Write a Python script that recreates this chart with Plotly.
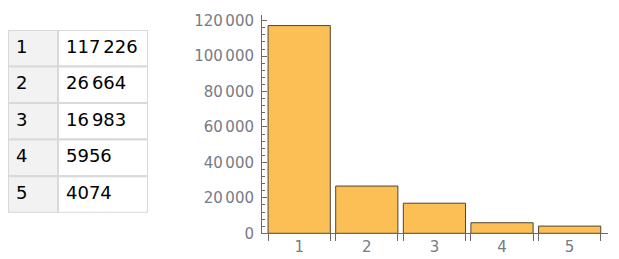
import plotly.graph_objects as go

categories = [1, 2, 3, 4, 5]
values = [117226, 26664, 16983, 5956, 4074]
y_tick_vals = [0, 20000, 40000, 60000, 80000, 100000, 120000]

W, H = 619, 259
FONT = "DejaVu Sans"
BAR_FILL = "#FBBF55"
BAR_EDGE = "#4f4535"
AXIS = "#6a6a6a"
LABEL = "#767b86"
CELL_LINE = "#d9d9d9"
CELL_FILL_1 = "#f2f2f2"
CELL_FILL_2 = "#ffffff"
COL1_W, COL2_W = 50, 90
CELL_PAD = 8
bar_w = 0.92
SEP = "\u2006"


def fmt(v):
    s = f"{v:,}"
    return s.replace(",", SEP) if v >= 10000 else str(v)


def px_x(p):
    return p / W


def px_y(p):
    return 1 - p / H


fig = go.Figure()

# ---- table (left), built from bars + text on its own axes ----
fig.add_trace(go.Bar(
    orientation="h", y=categories, x=[COL1_W] * len(categories), base=0, width=1,
    marker=dict(color=CELL_FILL_1, line=dict(color=CELL_LINE, width=2)),
    cliponaxis=False, hoverinfo="skip", xaxis="x2", yaxis="y2",
))
fig.add_trace(go.Bar(
    orientation="h", y=categories, x=[COL2_W] * len(categories), base=COL1_W, width=1,
    marker=dict(color=CELL_FILL_2, line=dict(color=CELL_LINE, width=2)),
    cliponaxis=False, hoverinfo="skip", xaxis="x2", yaxis="y2",
))
fig.add_trace(go.Scatter(
    x=[CELL_PAD] * len(categories), y=categories, mode="text",
    text=[str(c) for c in categories], textposition="middle right",
    marker=dict(size=0),
    textfont=dict(family=FONT, size=18, color="black"),
    cliponaxis=False, hoverinfo="skip", xaxis="x2", yaxis="y2",
))
fig.add_trace(go.Scatter(
    x=[COL1_W + CELL_PAD] * len(categories), y=categories, mode="text",
    text=[fmt(v) for v in values], textposition="middle right",
    marker=dict(size=0),
    textfont=dict(family=FONT, size=18, color="black"),
    cliponaxis=False, hoverinfo="skip", xaxis="x2", yaxis="y2",
))

# ---- bar chart (right) ----
fig.add_trace(go.Bar(
    x=categories, y=values, width=bar_w,
    marker=dict(color=BAR_FILL, line=dict(color=BAR_EDGE, width=1)),
    hoverinfo="skip",
))

edges = []
for c in categories:
    edges += [c - bar_w / 2, c + bar_w / 2]

fig.update_layout(
    width=W, height=H,
    margin=dict(l=0, r=0, t=0, b=0),
    paper_bgcolor="white", plot_bgcolor="rgba(0,0,0,0)",
    showlegend=False,
    template="none",
    barmode="overlay",
    xaxis=dict(
        domain=[px_x(262), px_x(607.5)],
        range=[0.45, 5.56],
        showgrid=False, zeroline=False,
        showline=True, linecolor=AXIS, linewidth=1,
        tickmode="array", tickvals=categories, ticktext=[str(c) for c in categories],
        ticks="", ticklabelstandoff=0,
        tickfont=dict(family=FONT, size=15, color=LABEL),
        minor=dict(tickmode="array", tickvals=edges, ticks="outside",
                   ticklen=7, tickcolor=AXIS, tickwidth=1, showgrid=False),
        automargin=False,
    ),
    yaxis=dict(
        domain=[px_y(233.3), px_y(15)],
        range=[0, 123200],
        showgrid=False, zeroline=False,
        showline=True, linecolor=AXIS, linewidth=1,
        tickmode="array", tickvals=y_tick_vals,
        ticktext=[fmt(v) for v in y_tick_vals],
        ticks="inside", ticklen=5, tickcolor=AXIS, tickwidth=1,
        ticklabelstandoff=4,
        tickfont=dict(family=FONT, size=15, color=LABEL),
        minor=dict(tickmode="linear", tick0=0, dtick=4000, ticks="inside",
                   ticklen=3, tickcolor=AXIS, tickwidth=1, showgrid=False),
        automargin=False,
    ),
    xaxis2=dict(
        domain=[px_x(8), px_x(148)], range=[0, COL1_W + COL2_W],
        visible=False, fixedrange=True,
    ),
    yaxis2=dict(
        domain=[px_y(212.7), px_y(30)], range=[5.5, 0.5],
        visible=False, fixedrange=True,
    ),
)

fig.write_html("out.html")
